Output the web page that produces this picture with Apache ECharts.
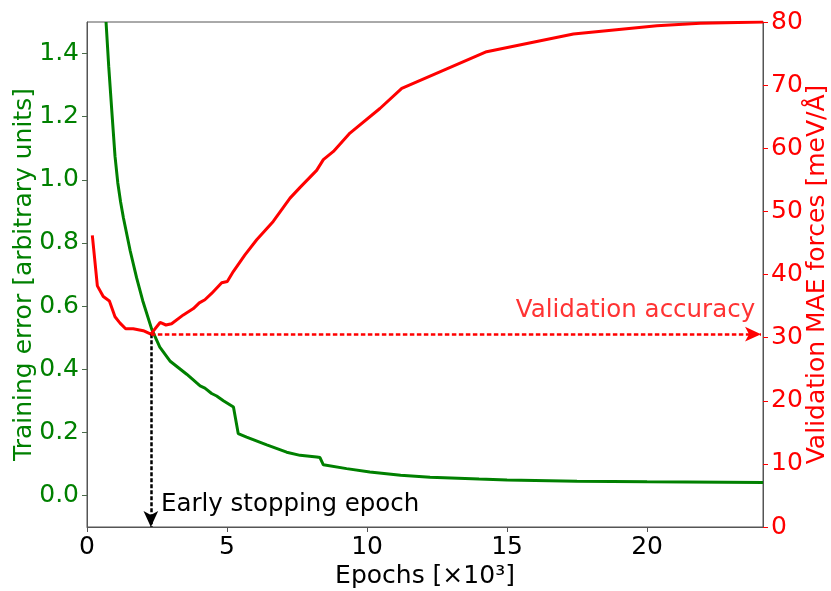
<!DOCTYPE html>
<html>
<head>
<meta charset="utf-8">
<script src="https://cdn.jsdelivr.net/npm/echarts@6/dist/echarts.min.js"></script>
<style>
  html, body { margin: 0; padding: 0; background: #fff; }
  #main { width: 831px; height: 591px; }
</style>
</head>
<body>
<div id="main"></div>
<script>
// epochs in units of 10^3
var trainX = [0.68, 0.775, 0.90, 1.00, 1.10, 1.20, 1.30, 1.54, 1.77, 1.99, 2.31, 2.60, 2.96, 3.56, 4.04, 4.21, 4.45, 4.63, 4.87, 5.23, 5.40, 5.70, 6.42, 7.13, 7.61, 8.20, 8.32, 8.44, 9.27, 10.1, 11.2, 12.25, 14.0, 15.0, 17.5, 20.0, 24.14];
var trainErr = [1.50, 1.36, 1.20, 1.075, 0.99, 0.93, 0.88, 0.776, 0.69, 0.617, 0.527, 0.47, 0.426, 0.384, 0.347, 0.340, 0.323, 0.315, 0.300, 0.280, 0.196, 0.185, 0.160, 0.137, 0.127, 0.122, 0.120, 0.097, 0.085, 0.074, 0.064, 0.058, 0.052, 0.049, 0.045, 0.043, 0.041];

var valX = [0.19, 0.37, 0.58, 0.80, 1.00, 1.18, 1.38, 1.65, 2.01, 2.28, 2.61, 2.82, 3.02, 3.44, 3.80, 4.01, 4.21, 4.45, 4.81, 5.01, 5.23, 5.64, 6.06, 6.65, 7.25, 7.61, 8.20, 8.44, 8.80, 9.39, 10.46, 11.24, 14.27, 17.37, 20.35, 21.9, 24.14];
var valMae = [46.2, 38.2, 36.5, 35.8, 33.3, 32.3, 31.4, 31.4, 31.1, 30.55, 32.4, 32.0, 32.2, 33.6, 34.6, 35.5, 36.0, 37.0, 38.7, 38.9, 40.5, 43.1, 45.5, 48.4, 52.1, 53.8, 56.5, 58.2, 59.5, 62.4, 66.3, 69.5, 75.3, 78.1, 79.4, 79.8, 80.0];

var leftTicks = [0, 0.2, 0.4, 0.6, 0.8, 1.0, 1.2, 1.4];

// early stopping point
var stopEpoch = 2.28;
var stopMae = 30.55;

var font = 'DejaVu Sans';
var fs = 25;

var chart = echarts.init(document.getElementById('main'), null, { renderer: 'canvas' });

function pairs(xs, ys) {
  return xs.map(function (x, i) { return [x, ys[i]]; });
}

var option = {
  animation: false,
  textStyle: { fontFamily: font },
  grid: {
    left: 87, right: 68, top: 22, bottom: 64,
    outerBoundsMode: 'none',
    containLabel: false,
    show: true, borderColor: '#555', borderWidth: 1
  },
  xAxis: {
    type: 'value',
    min: 0, max: 24.14, interval: 5,
    name: 'Epochs [×10³]',
    nameLocation: 'middle',
    nameGap: 37,
    nameMoveOverlap: false,
    nameTextStyle: { color: '#000', fontSize: fs, fontFamily: font },
    axisLine: { onZero: false, lineStyle: { color: '#555' } },
    axisTick: { show: true, length: 5, lineStyle: { color: '#555' } },
    axisLabel: { color: '#000', fontSize: fs, fontFamily: font, margin: 8, showMaxLabel: false },
    splitLine: { show: false }
  },
  yAxis: [{
    type: 'value',
    min: -0.1, max: 1.5,
    position: 'left',
    name: 'Training error [arbitrary units]',
    nameLocation: 'middle',
    nameRotate: 90,
    nameGap: 50,
    nameMoveOverlap: false,
    nameTextStyle: { color: 'green', fontSize: fs, fontFamily: font },
    axisLine: { show: true, onZero: false, lineStyle: { color: '#555' } },
    axisTick: { show: true, length: 5, customValues: leftTicks, lineStyle: { color: '#4a6a4a' } },
    axisLabel: {
      color: 'green', fontSize: fs, fontFamily: font, margin: 8,
      customValues: leftTicks,
      formatter: function (v) { return v.toFixed(1); }
    },
    splitLine: { show: false }
  }, {
    type: 'value',
    min: 0, max: 80, interval: 10,
    position: 'right',
    name: 'Validation MAE forces [meV/Å]',
    nameLocation: 'middle',
    nameRotate: 90,
    nameGap: 42,
    nameMoveOverlap: false,
    nameTextStyle: { color: 'red', fontSize: fs, fontFamily: font },
    axisLine: { show: true, onZero: false, lineStyle: { color: '#555' } },
    axisTick: { show: true, length: 5, lineStyle: { color: 'red' } },
    axisLabel: { color: 'red', fontSize: fs, fontFamily: font, margin: 8 },
    splitLine: { show: false }
  }],
  series: [{
    name: 'Training error',
    type: 'line',
    yAxisIndex: 0,
    data: pairs(trainX, trainErr),
    showSymbol: false,
    lineStyle: { color: 'green', width: 3 },
    z: 3
  }, {
    name: 'Validation MAE',
    type: 'line',
    yAxisIndex: 1,
    data: pairs(valX, valMae),
    showSymbol: false,
    lineStyle: { color: 'red', width: 3 },
    z: 4,
    markLine: {
      silent: true,
      animation: false,
      label: { show: false },
      data: [
        [
          { coord: [stopEpoch, stopMae], symbol: 'none',
            lineStyle: { color: '#000', type: [4, 2], width: 2.5 } },
          { coord: [stopEpoch, 0], symbol: 'arrow', symbolSize: [11, 16] }
        ],
        [
          { coord: [stopEpoch, stopMae], symbol: 'none',
            lineStyle: { color: 'red', type: [4.5, 2.5], width: 2.5 } },
          { coord: [24.07, stopMae], symbol: 'arrow', symbolSize: [11, 16] }
        ]
      ]
    },
    markPoint: {
      silent: true,
      symbol: 'circle',
      symbolSize: 0,
      data: [{
        coord: [2.64, 3.6],
        label: {
          show: true, position: 'right', distance: 0,
          formatter: 'Early stopping epoch',
          color: '#000', fontSize: 24.5, fontFamily: font
        }
      }, {
        coord: [23.86, 34.3],
        label: {
          show: true, position: 'left', distance: 0,
          formatter: 'Validation accuracy',
          color: '#ff3333', fontSize: 24.5, fontFamily: font
        }
      }]
    }
  }]
};

chart.setOption(option);
</script>
</body>
</html>
